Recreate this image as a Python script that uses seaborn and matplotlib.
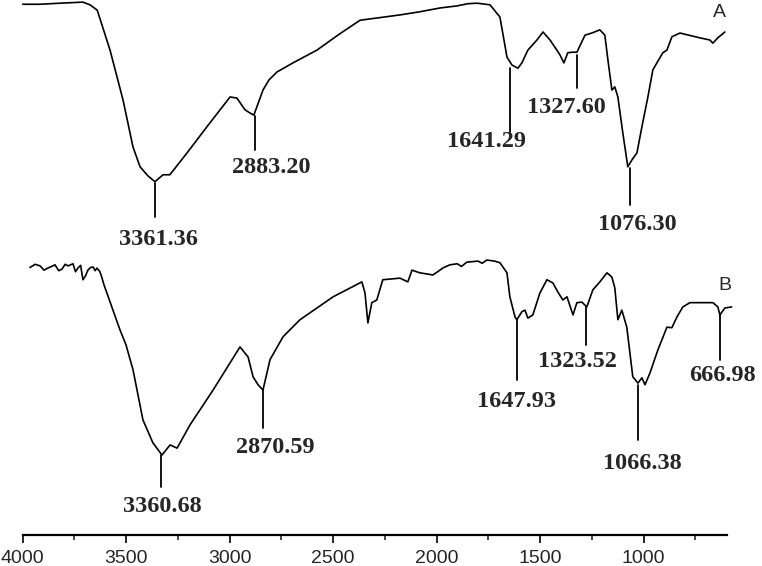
import pandas as pd
import matplotlib
matplotlib.use("Agg")
import matplotlib.pyplot as plt
import seaborn as sns
from matplotlib.ticker import MultipleLocator

# Espectro A (numero de onda, transmitancia relativa)
wn_a = [4000, 3916, 3820, 3709, 3675, 3640, 3578, 3515, 3467, 3433, 3395, 3361,
        3322, 3289, 3206, 3110, 2998, 2965, 2926, 2902, 2883, 2839, 2810, 2771,
        2694, 2578, 2470, 2370, 2177, 2080, 1984, 1900, 1850, 1805, 1742, 1694,
        1660, 1636, 1607, 1588, 1559, 1515, 1486, 1452, 1419, 1404, 1385, 1366,
        1346, 1322, 1283, 1250, 1211, 1187, 1172, 1153, 1139, 1124, 1100, 1076,
        1056, 1032, 1008, 979, 955, 907, 887, 863, 824, 728, 680, 665, 641, 607]
t_a = [99.2, 99.2, 99.4, 99.6, 99.1, 98.1, 90.6, 81.2, 72.4, 68.7, 67.0, 65.9,
       67.2, 67.2, 71.3, 76.2, 81.8, 81.6, 79.4, 78.8, 78.4, 83.1, 85.0, 86.5,
       88.2, 90.6, 93.6, 96.2, 97.2, 97.8, 98.5, 98.9, 99.3, 99.4, 99.1, 96.8,
       89.3, 87.8, 87.2, 88.2, 90.6, 92.5, 94.0, 92.5, 90.6, 89.7, 88.2, 90.1,
       90.2, 90.2, 93.4, 93.8, 94.4, 93.4, 88.7, 83.1, 83.7, 81.8, 75.0, 68.7,
       70.0, 71.3, 76.2, 81.8, 86.9, 90.1, 90.6, 93.1, 93.8, 92.9, 92.5, 91.9,
       92.9, 94.0]

# Espectro B
wn_b = [3965, 3940, 3916, 3897, 3878, 3860, 3844, 3826, 3810, 3795, 3781, 3757,
        3745, 3733, 3720, 3709, 3697, 3685, 3672, 3660, 3650, 3641, 3627, 3618,
        3607, 3593, 3564, 3530, 3501, 3467, 3419, 3371, 3327, 3288, 3254, 3191,
        3080, 2950, 2911, 2887, 2863, 2839, 2805, 2742, 2660, 2500, 2361, 2346,
        2332, 2313, 2289, 2260, 2177, 2139, 2119, 2081, 2018, 1995, 1970, 1936,
        1900, 1880, 1854, 1800, 1780, 1757, 1720, 1694, 1660, 1646, 1621, 1612,
        1588, 1573, 1559, 1535, 1501, 1467, 1438, 1414, 1390, 1370, 1341, 1322,
        1298, 1274, 1245, 1211, 1177, 1153, 1139, 1124, 1105, 1081, 1052, 1027,
        1008, 993, 969, 931, 887, 863, 839, 810, 776, 665, 641, 631, 607, 574]
t_b = [49.8, 50.4, 50.1, 49.3, 49.7, 50.0, 50.3, 49.2, 49.5, 50.4, 50.1, 50.5,
       49.0, 49.7, 50.2, 47.5, 48.2, 49.3, 49.8, 49.9, 49.2, 49.7, 49.0, 48.0,
       46.5, 45.0, 41.8, 38.1, 35.3, 30.6, 21.2, 16.9, 14.6, 16.5, 15.9, 20.3,
       26.8, 34.9, 33.0, 29.3, 27.8, 26.8, 32.5, 36.8, 40.0, 44.3, 47.1, 45.0,
       39.4, 43.2, 43.7, 47.5, 47.8, 47.1, 49.3, 48.8, 48.4, 49.0, 49.7, 50.3,
       50.5, 50.0, 50.8, 51.0, 50.6, 51.2, 51.0, 50.7, 48.8, 44.3, 40.5, 40.0,
       41.5, 41.8, 40.3, 40.9, 45.0, 47.5, 46.9, 45.2, 43.7, 44.3, 40.9, 43.2,
       43.3, 42.4, 45.6, 47.1, 48.8, 48.0, 46.0, 40.0, 41.8, 38.6, 29.3, 28.1,
       29.1, 27.8, 30.0, 34.3, 38.6, 38.5, 40.5, 42.4, 43.2, 43.2, 42.4, 40.9,
       42.2, 42.4]

# Picos marcados: texto, posicao da linha, topo/base da linha, posicao do texto
pico_txt = ["3361.36", "2883.20", "1641.29", "1327.60", "1076.30",
            "3360.68", "2870.59", "1647.93", "1323.52", "1066.38", "666.98"]
pico_x = [3361, 2877, 1645, 1322, 1066, 3331, 2839, 1612, 1279, 1027, 631]
pico_y1 = [65.7, 78.2, 87.2, 89.7, 68.5, 14.6, 26.8, 40.0, 42.4, 27.8, 40.9]
pico_y2 = [59.3, 71.9, 75.0, 83.5, 61.5, 8.6, 19.7, 28.7, 35.3, 17.4, 32.5]
texto_x = [3346, 2799, 1761, 1375, 1032, 3327, 2781, 1612, 1318, 1008, 617]
texto_y = [55.0, 68.5, 73.4, 79.9, 57.8, 4.9, 16.1, 24.6, 32.1, 13.1, 29.6]

df_a = pd.DataFrame({'wn': wn_a, 't': t_a})
df_b = pd.DataFrame({'wn': wn_b, 't': t_b})

sns.set_style("white")
plt.rcParams['font.family'] = ['Liberation Sans', 'DejaVu Sans']

fig = plt.figure(figsize=(7.62, 5.66), dpi=100)
ax = fig.add_axes([0.0298, 0.0548, 0.9242, 0.9452])

sns.lineplot(data=df_a, x='wn', y='t', ax=ax, color='black', linewidth=1.2,
             sort=False, estimator=None)
sns.lineplot(data=df_b, x='wn', y='t', ax=ax, color='black', linewidth=1.2,
             sort=False, estimator=None)
for ln in ax.lines:
    ln.set_clip_on(False)

# linhas e textos dos picos
for txt, x, y1, y2, tx, ty in zip(pico_txt, pico_x, pico_y1, pico_y2, texto_x, texto_y):
    ax.plot([x, x], [y1, y2], color='black', linewidth=1.3, clip_on=False)
    ax.text(tx, ty, txt, ha='center', va='center', fontsize=17.5,
            fontweight='bold', family=['Liberation Serif', 'DejaVu Serif'])

ax.text(631, 97.6, 'A', ha='center', va='center', fontsize=14)
ax.text(607, 46.5, 'B', ha='center', va='center', fontsize=14)

ax.set_xlim(4000, 597)
ax.set_ylim(-0.4, 100)
ax.xaxis.set_major_locator(MultipleLocator(500))
ax.xaxis.set_minor_locator(MultipleLocator(250))
ax.tick_params(axis='x', which='major', direction='out', length=6, width=1.4,
               labelsize=14, pad=5, bottom=True)
ax.tick_params(axis='x', which='minor', direction='out', length=3.5, width=1.2,
               bottom=True)
ax.set_yticks([])
ax.set_xlabel('')
ax.set_ylabel('')
for s in ['left', 'top', 'right']:
    ax.spines[s].set_visible(False)
ax.spines['bottom'].set_linewidth(1.6)
ax.spines['bottom'].set_color('black')
ax.patch.set_alpha(0)

fig.savefig('out.png', dpi=100)
